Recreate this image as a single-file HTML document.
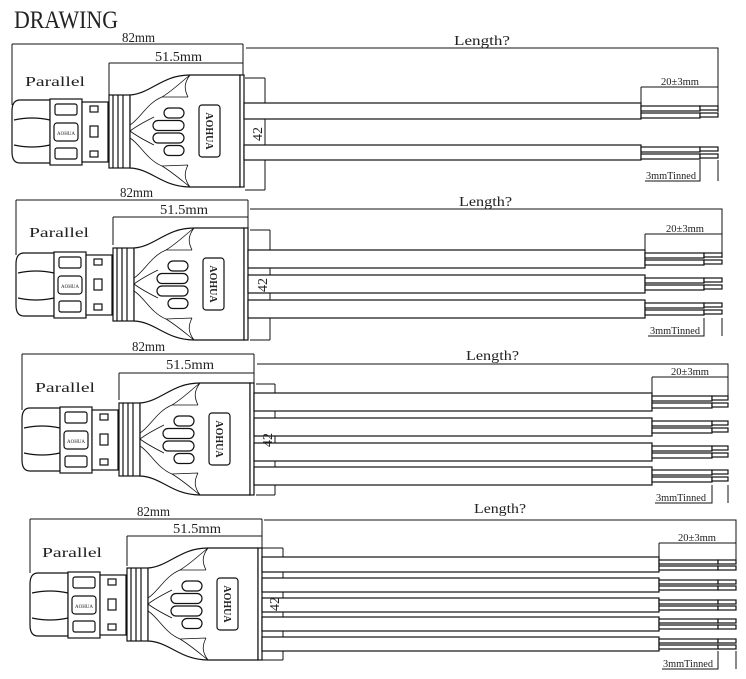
<!DOCTYPE html>
<html><head><meta charset="utf-8"><style>
html,body{margin:0;padding:0;background:#fff;}
svg{display:block;}
text{font-family:"Liberation Serif","Noto Serif CJK SC",serif;fill:#222;}
</style></head><body>
<svg width="746" height="679" viewBox="0 0 746 679" xmlns="http://www.w3.org/2000/svg">
<defs>
<symbol id="con" overflow="visible">
 <g fill="#fff" stroke="#111" stroke-width="1.2">
  <path d="M38,25 H8 Q0,25 0,36 V77 Q0,88 8,88 H38 Z"/>
  <path d="M2,45 Q20,41 38,45 M2,70 Q20,74 38,70" fill="none"/>
  <rect x="38" y="24" width="32" height="66"/>
  <rect x="43" y="29" width="22" height="11" rx="2"/>
  <rect x="43" y="73" width="22" height="11" rx="2"/>
  <rect x="42" y="48" width="24" height="18" rx="3"/>
  <rect x="70" y="27" width="26" height="60"/>
  <rect x="78" y="31" width="8" height="6"/>
  <rect x="78" y="51" width="8" height="11"/>
  <rect x="78" y="76" width="8" height="6"/>
  <rect x="97" y="20" width="21" height="73"/>
  <path d="M101,20 V93 M106,20 V93 M111,20 V93" fill="none"/>
  <path d="M118,20 C140,18 150,0 178,0 H228 V112 H178 C150,112 140,94 118,93 Z"/>
  <path d="M118,50 C128,44 135,28 150,22 C160,16 168,8 178,0 M118,63 C128,69 135,85 150,91 C160,97 168,104 178,112 M178,0 C172,8 172,14 176,22 M178,112 C172,104 172,98 176,90 M150,22 L176,22 M150,91 L176,90 M118,56 C126,50 134,46 142,42 M118,56 C126,62 134,66 142,70" fill="none" stroke-width="0.8"/>
  <rect x="228" y="0" width="4" height="112"/>
  <rect x="187" y="30" width="21" height="52" rx="3"/>
  <rect x="152" y="33" width="20" height="10" rx="5"/>
  <rect x="141" y="45.5" width="31" height="10" rx="5"/>
  <rect x="141" y="58" width="31" height="10" rx="5"/>
  <rect x="152" y="70.5" width="20" height="10" rx="5"/>
 </g>
 <text x="0" y="0" transform="translate(194,56) rotate(90)" font-size="10" text-anchor="middle" font-family="Liberation Sans,sans-serif" font-weight="bold">AOHUA</text>
 <text x="54" y="60" font-size="5" text-anchor="middle" font-family="Liberation Sans,sans-serif">AOHUA</text>
</symbol>
</defs>

<text x="14" y="28" font-size="25" textLength="104" lengthAdjust="spacingAndGlyphs">DRAWING</text>

<g stroke="#111" stroke-width="1" fill="none">
<path d="M12,44 H243 M12,44 V105 M243,44 V75 M109,63 H243 M109,63 V95 M246,48 H718 V112 M245,78 H265 M245,190 H265 M265,78 V190 M641,87 H718 M641,87 V103 M700,160 V181 H645 M718,160 V181"/>
<path d="M16,200 H248 M16,200 V255 M248,200 V228 M113,217 H248 M113,217 V245 M250,209 H722 V258 M250,230 H270 M250,340 H270 M270,230 V340 M645,234 H722 M645,234 V250 M704,318 V336 H648 M722,318 V336"/>
<path d="M22,354 H254 M22,354 V410 M254,354 V383 M119,373 H254 M119,373 V400 M257,364 H728 V396 M256,384 H275 M256,495 H275 M275,384 V495 M652,377 H728 M652,377 V393 M712,485 V503 H655 M728,485 V503"/>
<path d="M30,519 H262 M30,519 V573 M262,519 V548 M127,536 H262 M127,536 V566 M264,520 H736 V560 M262,548 H283 M262,660 H283 M283,548 V660 M659,543 H736 M659,543 V557 M718,651 V669 H662 M736,651 V669"/>
</g>

<use href="#con" x="12" y="75"/>
<use href="#con" x="16" y="228"/>
<use href="#con" x="22" y="383"/>
<use href="#con" x="30" y="548"/>

<g stroke="#111" stroke-width="1.2" fill="#fff">
<rect x="244" y="103" width="397" height="16"/><rect x="641" y="106" width="59" height="5"/><rect x="641" y="113" width="59" height="5"/><rect x="700" y="106" width="18" height="4"/><rect x="700" y="113" width="18" height="4"/>
<rect x="244" y="145" width="397" height="15"/><rect x="641" y="147" width="59" height="5"/><rect x="641" y="154" width="59" height="5"/><rect x="700" y="147" width="18" height="4"/><rect x="700" y="154" width="18" height="4"/>
<rect x="248" y="250" width="397" height="18"/><rect x="645" y="253" width="59" height="5"/><rect x="645" y="260" width="59" height="5"/><rect x="704" y="253" width="18" height="4"/><rect x="704" y="260" width="18" height="4"/>
<rect x="248" y="275" width="397" height="18"/><rect x="645" y="278" width="59" height="5"/><rect x="645" y="285" width="59" height="5"/><rect x="704" y="278" width="18" height="4"/><rect x="704" y="285" width="18" height="4"/>
<rect x="248" y="300" width="397" height="18"/><rect x="645" y="303" width="59" height="5"/><rect x="645" y="310" width="59" height="5"/><rect x="704" y="303" width="18" height="4"/><rect x="704" y="310" width="18" height="4"/>
<rect x="254" y="393" width="398" height="18"/><rect x="652" y="396" width="60" height="5"/><rect x="652" y="403" width="60" height="5"/><rect x="712" y="396" width="16" height="4"/><rect x="712" y="403" width="16" height="4"/>
<rect x="254" y="418" width="398" height="18"/><rect x="652" y="421" width="60" height="5"/><rect x="652" y="428" width="60" height="5"/><rect x="712" y="421" width="16" height="4"/><rect x="712" y="428" width="16" height="4"/>
<rect x="254" y="443" width="398" height="18"/><rect x="652" y="446" width="60" height="5"/><rect x="652" y="453" width="60" height="5"/><rect x="712" y="446" width="16" height="4"/><rect x="712" y="453" width="16" height="4"/>
<rect x="254" y="467" width="398" height="18"/><rect x="652" y="470" width="60" height="5"/><rect x="652" y="477" width="60" height="5"/><rect x="712" y="470" width="16" height="4"/><rect x="712" y="477" width="16" height="4"/>
<rect x="262" y="557" width="397" height="15"/><rect x="659" y="560" width="59" height="4"/><rect x="659" y="566" width="59" height="4"/><rect x="718" y="560" width="18" height="4"/><rect x="718" y="566" width="18" height="4"/>
<rect x="262" y="578" width="397" height="14"/><rect x="659" y="580" width="59" height="4"/><rect x="659" y="586" width="59" height="4"/><rect x="718" y="580" width="18" height="4"/><rect x="718" y="586" width="18" height="4"/>
<rect x="262" y="598" width="397" height="14"/><rect x="659" y="600" width="59" height="4"/><rect x="659" y="606" width="59" height="4"/><rect x="718" y="600" width="18" height="4"/><rect x="718" y="606" width="18" height="4"/>
<rect x="262" y="617" width="397" height="14"/><rect x="659" y="619" width="59" height="4"/><rect x="659" y="625" width="59" height="4"/><rect x="718" y="619" width="18" height="4"/><rect x="718" y="625" width="18" height="4"/>
<rect x="262" y="637" width="397" height="14"/><rect x="659" y="639" width="59" height="4"/><rect x="659" y="645" width="59" height="4"/><rect x="718" y="639" width="18" height="4"/><rect x="718" y="645" width="18" height="4"/>
</g>

<g font-size="14">
<text x="122" y="42" textLength="33" lengthAdjust="spacingAndGlyphs">82mm</text>
<text x="155" y="61" textLength="47" lengthAdjust="spacingAndGlyphs">51.5mm</text>
<text x="454" y="45" textLength="56" lengthAdjust="spacingAndGlyphs">Length?</text>
<text x="25" y="86" textLength="60" lengthAdjust="spacingAndGlyphs">Parallel</text>
<text x="120" y="197" textLength="33" lengthAdjust="spacingAndGlyphs">82mm</text>
<text x="160" y="214" textLength="48" lengthAdjust="spacingAndGlyphs">51.5mm</text>
<text x="459" y="206" textLength="53" lengthAdjust="spacingAndGlyphs">Length?</text>
<text x="29" y="237" textLength="60" lengthAdjust="spacingAndGlyphs">Parallel</text>
<text x="132" y="351" textLength="33" lengthAdjust="spacingAndGlyphs">82mm</text>
<text x="166" y="369" textLength="48" lengthAdjust="spacingAndGlyphs">51.5mm</text>
<text x="466" y="360" textLength="53" lengthAdjust="spacingAndGlyphs">Length?</text>
<text x="35" y="392" textLength="60" lengthAdjust="spacingAndGlyphs">Parallel</text>
<text x="137" y="516" textLength="33" lengthAdjust="spacingAndGlyphs">82mm</text>
<text x="173" y="533" textLength="48" lengthAdjust="spacingAndGlyphs">51.5mm</text>
<text x="474" y="513" textLength="52" lengthAdjust="spacingAndGlyphs">Length?</text>
<text x="42" y="557" textLength="60" lengthAdjust="spacingAndGlyphs">Parallel</text>
</g>
<g font-size="14">
<text transform="translate(262,134) rotate(-90)" text-anchor="middle">42</text>
<text transform="translate(267,285) rotate(-90)" text-anchor="middle">42</text>
<text transform="translate(272,440) rotate(-90)" text-anchor="middle">42</text>
<text transform="translate(279,604) rotate(-90)" text-anchor="middle">42</text>
</g>
<g font-size="10">
<text x="661" y="85" textLength="38" lengthAdjust="spacingAndGlyphs">20±3mm</text>
<text x="646" y="179" textLength="50" lengthAdjust="spacingAndGlyphs">3mmTinned</text>
<text x="666" y="232" textLength="38" lengthAdjust="spacingAndGlyphs">20±3mm</text>
<text x="650" y="334" textLength="50" lengthAdjust="spacingAndGlyphs">3mmTinned</text>
<text x="671" y="375" textLength="38" lengthAdjust="spacingAndGlyphs">20±3mm</text>
<text x="656" y="501" textLength="50" lengthAdjust="spacingAndGlyphs">3mmTinned</text>
<text x="678" y="541" textLength="38" lengthAdjust="spacingAndGlyphs">20±3mm</text>
<text x="663" y="667" textLength="50" lengthAdjust="spacingAndGlyphs">3mmTinned</text>
</g>
</svg>
</body></html>
